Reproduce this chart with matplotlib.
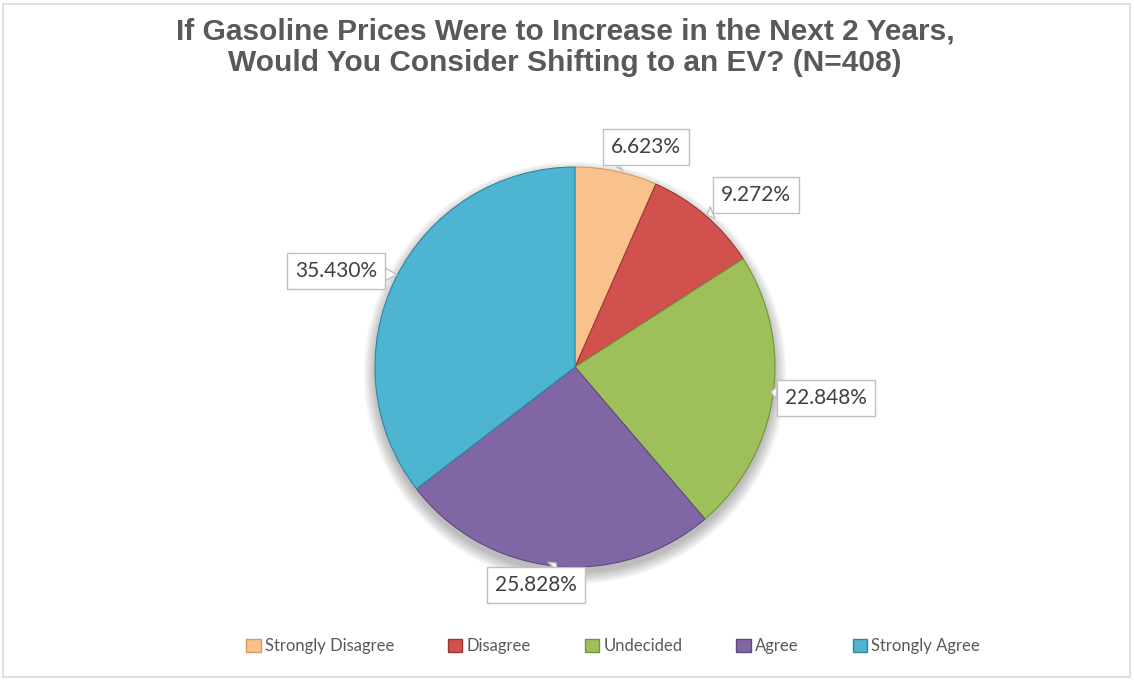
import matplotlib.pyplot as plt
from matplotlib.patches import Patch, Circle, Rectangle

# survey answers (share of respondents, %)
categories = ['Strongly Disagree', 'Disagree', 'Undecided', 'Agree', 'Strongly Agree']
shares = [6.623, 9.272, 22.848, 25.828, 35.430]
colors = ['#F9C18C', '#D0514E', '#9DC05A', '#8166A6', '#4DB5D1']
edge_colors = ['#D99A5E', '#9E3532', '#76933C', '#5F4A7D', '#31859C']

# where each callout box sits (axes data units, pie radius = 1)
label_pos = [(0.355, 1.10), (0.905, 0.86), (1.255, -0.155), (-0.195, -1.09), (-1.195, 0.48)]
label_tip = [(0.21, 1.0), (0.66, 0.76), (0.98, -0.125), (-0.095, -0.98), (-0.89, 0.46)]

fig = plt.figure(figsize=(11.34, 6.8), dpi=100)

# light frame around the whole chart
fig.patches.append(Rectangle((3 / 1134, 3 / 680), 1127 / 1134, 673 / 680,
                             transform=fig.transFigure, fill=False,
                             edgecolor='#D9D9D9', linewidth=1.2))

ax = fig.add_axes([375 / 1134, 113 / 680, 400 / 1134, 400 / 680])

# soft drop shadow under the pie
for i in range(8):
    ax.add_patch(Circle((0.0, -0.03), 1.0 + 0.008 * i, color='black',
                        alpha=0.035, zorder=0, linewidth=0, clip_on=False))

wedges, _ = ax.pie(shares, colors=colors, startangle=90, counterclock=False,
                   radius=1.0, wedgeprops=dict(linewidth=0.8))
for w, ec in zip(wedges, edge_colors):
    w.set_edgecolor(ec)
    w.set_zorder(2)

# pie() resets the limits, so set them afterwards
ax.set_xlim(-1, 1)
ax.set_ylim(-1, 1)
ax.set_aspect('equal')
ax.axis('off')

# callout labels
for s, pos, tip in zip(shares, label_pos, label_tip):
    ax.annotate(f'{s:.3f}%', xy=tip, xytext=pos, ha='center', va='center',
                fontsize=15, color='#404040', family='Lato', zorder=5,
                annotation_clip=False,
                bbox=dict(boxstyle='square,pad=0.38', fc='white', ec='#BFBFBF', lw=1),
                arrowprops=dict(arrowstyle='wedge,tail_width=0.6', fc='white',
                                ec='#BFBFBF', lw=1, shrinkA=0, shrinkB=0))

fig.text(565 / 1134, 1 - 47 / 680,
         'If Gasoline Prices Were to Increase in the Next 2 Years,\n'
         'Would You Consider Shifting to an EV? (N=408)',
         ha='center', va='center', fontsize=21.5, fontweight='bold',
         color='#595959', family='Liberation Sans', linespacing=1.15)

handles = [Patch(facecolor=c, edgecolor=e, label=l)
           for c, e, l in zip(colors, edge_colors, categories)]
leg = fig.legend(handles=handles, loc='center', ncol=5, frameon=False,
                 bbox_to_anchor=(613 / 1134, 1 - 646 / 680),
                 prop={'family': 'Lato', 'size': 12},
                 handlelength=0.85, handleheight=0.85, handletextpad=0.25,
                 columnspacing=3.25)
for t in leg.get_texts():
    t.set_color('#595959')

fig.savefig('out.png', dpi=100)
